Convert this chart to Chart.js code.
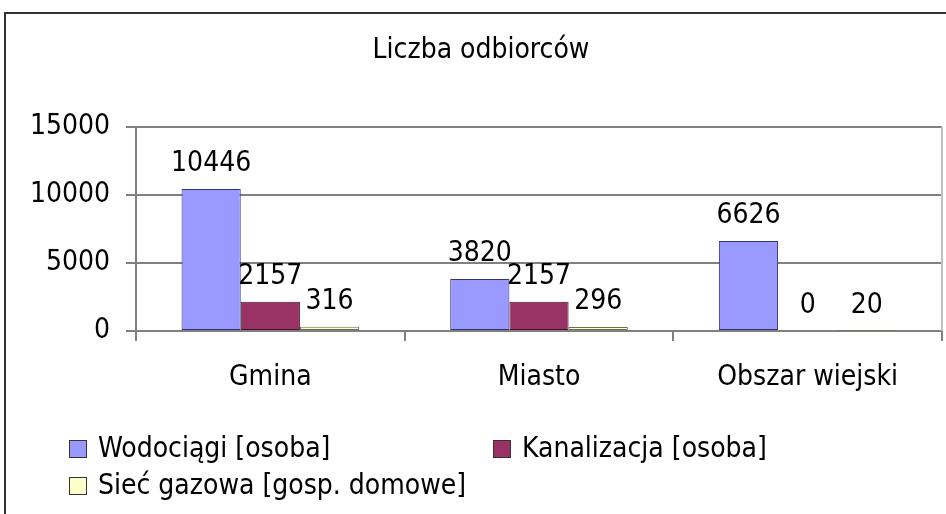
<!DOCTYPE html>
<html>
<head>
<meta charset="utf-8">
<script src="https://cdn.jsdelivr.net/npm/chart.js@4"></script>
<style>
  html, body { margin: 0; padding: 0; background: #fff; }
  #wrap { width: 946px; height: 514px; position: relative; }
</style>
</head>
<body>
<div id="wrap"><canvas id="c" width="946" height="514"></canvas></div>
<script>
const chartTitle = "Liczba odbiorców";
const categories = ["Gmina", "Miasto", "Obszar wiejski"];
const seriesNames = ["Wodociągi [osoba]", "Kanalizacja [osoba]", "Sieć gazowa [gosp. domowe]"];
const wodociagi = [10446, 3820, 6626];
const kanalizacja = [2157, 2157, 0];
const siecGazowa = [316, 296, 20];
const yTicks = [0, 5000, 10000, 15000];

const FONT = '"DejaVu Sans Condensed", "DejaVu Sans", sans-serif';
const FS = 28;
const fills = ["#9999FF", "#993366", "#FFFFCC"];
const borders = ["#33336e", "#40142a", "#6e6e50"];
const seriesValues = [wodociagi, kanalizacja, siecGazowa];

const framePlugin = {
  id: 'frame',
  beforeDraw(chart) {
    const ctx = chart.ctx;
    ctx.save();
    ctx.fillStyle = '#fff';
    ctx.fillRect(0, 0, chart.width, chart.height);
    ctx.strokeStyle = '#333';
    ctx.lineWidth = 2;
    ctx.strokeRect(5, 13, chart.width + 100, chart.height + 100);
    ctx.restore();
  },
  beforeDatasetsDraw(chart) {
    const a = chart.chartArea, ctx = chart.ctx;
    ctx.save();
    ctx.strokeStyle = '#c0c0c0';
    ctx.lineWidth = 2;
    ctx.beginPath();
    ctx.moveTo(a.right, a.top);
    ctx.lineTo(a.right, a.bottom);
    ctx.stroke();
    ctx.restore();
  }
};

const valueLabels = {
  id: 'valueLabels',
  afterDatasetsDraw(chart) {
    const ctx = chart.ctx;
    ctx.save();
    ctx.font = FS + 'px ' + FONT;
    ctx.fillStyle = '#000';
    ctx.textAlign = 'center';
    ctx.textBaseline = 'alphabetic';
    chart.data.datasets.forEach((ds, di) => {
      const meta = chart.getDatasetMeta(di);
      meta.data.forEach((bar, i) => {
        ctx.fillText(String(ds.data[i]), bar.x, bar.y - 18);
      });
    });
    ctx.restore();
  }
};

const customLegend = {
  id: 'customLegend',
  afterDraw(chart) {
    const ctx = chart.ctx;
    ctx.save();
    ctx.font = FS + 'px ' + FONT;
    ctx.textBaseline = 'middle';
    const pos = [[69, chart.height - 65], [493, chart.height - 65], [69, chart.height - 28]];
    chart.data.datasets.forEach((ds, i) => {
      const [x, y] = pos[i];
      ctx.fillStyle = ds.backgroundColor;
      ctx.fillRect(x, y - 9, 18, 18);
      ctx.strokeStyle = '#333';
      ctx.lineWidth = 1;
      ctx.strokeRect(x + 0.5, y - 8.5, 17, 17);
      ctx.fillStyle = '#000';
      ctx.textAlign = 'left';
      ctx.fillText(ds.label, x + 29, y + 1);
    });
    ctx.restore();
  }
};

new Chart(document.getElementById('c'), {
  type: 'bar',
  data: {
    labels: categories,
    datasets: seriesNames.map((name, i) => ({
      label: name,
      data: seriesValues[i],
      backgroundColor: fills[i],
      borderColor: borders[i],
      borderWidth: 1,
      borderSkipped: false,
      barPercentage: 1.0,
      categoryPercentage: 0.661
    }))
  },
  options: {
    responsive: false,
    animation: false,
    devicePixelRatio: 1,
    layout: { padding: { left: 20, right: 4, top: 0, bottom: 120 } },
    plugins: {
      legend: { display: false },
      tooltip: { enabled: false },
      title: {
        display: true,
        text: chartTitle,
        color: '#000',
        font: { family: FONT, size: FS, weight: 'normal' },
        padding: { top: 34, bottom: 59.4 }
      }
    },
    scales: {
      x: {
        grid: {
          offset: true,
          drawOnChartArea: false,
          drawTicks: true,
          tickLength: 10,
          tickColor: '#808080',
          lineWidth: 2
        },
        border: { display: true, color: '#808080', width: 2 },
        ticks: {
          color: '#000',
          font: { family: FONT, size: FS },
          padding: 20,
          maxRotation: 0,
          autoSkip: false
        },
        afterFit(scale) { scale.height = 63; }
      },
      y: {
        min: 0,
        max: 15000,
        afterBuildTicks(scale) { scale.ticks = yTicks.map(v => ({ value: v })); },
        grid: {
          color: '#808080',
          lineWidth: 2,
          tickLength: 10,
          tickColor: '#808080'
        },
        border: { display: true, color: '#808080', width: 2 },
        ticks: {
          color: '#000',
          font: { family: FONT, size: FS },
          padding: 16,
          callback: (v) => String(v)
        },
        afterFit(scale) { scale.width = 116; }
      }
    }
  },
  plugins: [framePlugin, valueLabels, customLegend]
});
</script>
</body>
</html>
